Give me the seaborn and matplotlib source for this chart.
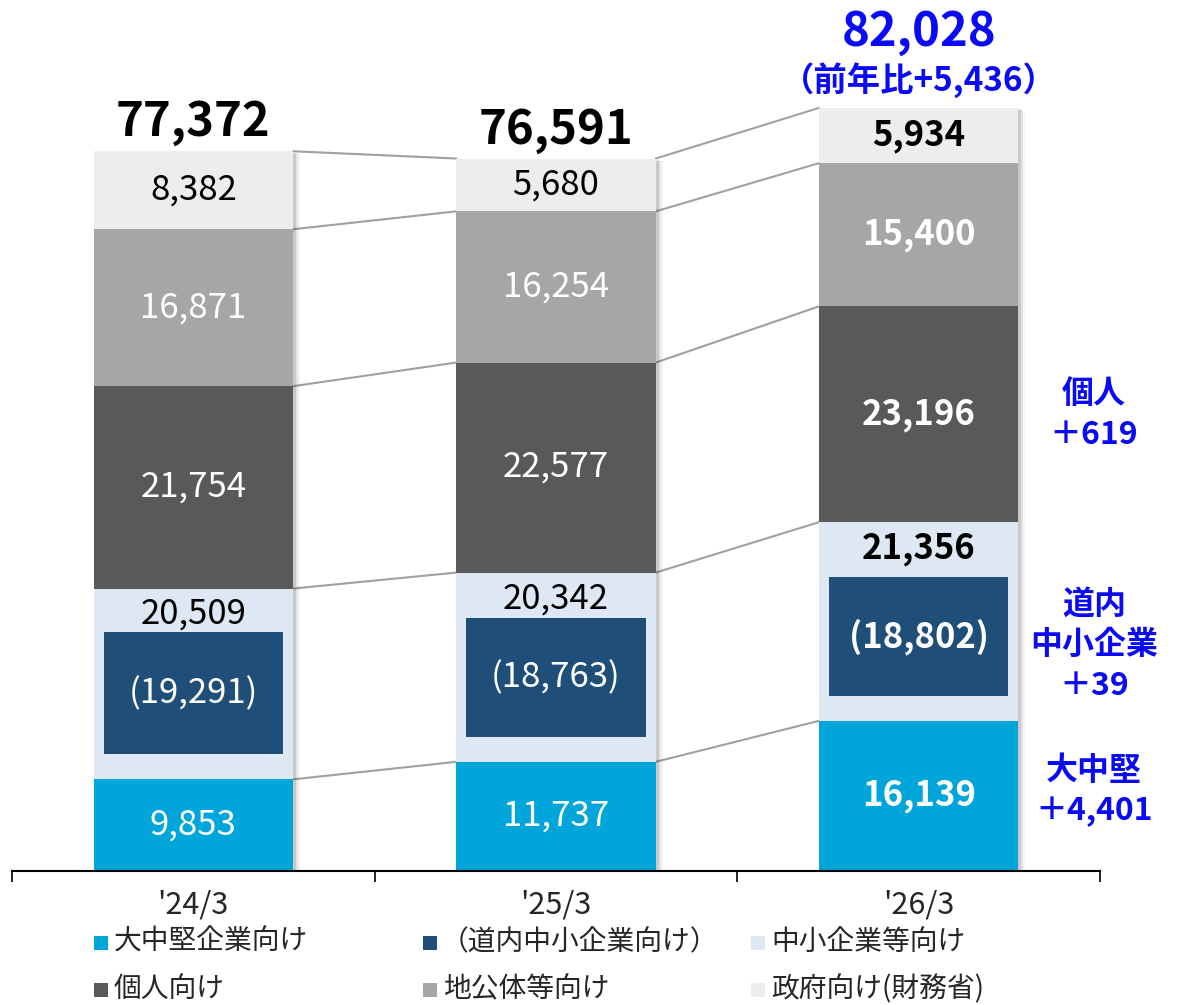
import matplotlib
matplotlib.use('Agg')
import matplotlib.pyplot as plt
import matplotlib.patches as mpatches
import matplotlib.patheffects as pe
import numpy as np
import seaborn as sns

sns.set_style('white')
plt.rcParams['font.family'] = ['Noto Sans CJK JP', 'DejaVu Sans']

# data (単位: 億円)
cats = ["'24/3", "'25/3", "'26/3"]
large = [9853, 11737, 16139]          # 大中堅企業向け
sme = [20509, 20342, 21356]           # 中小企業等向け
local_sme = [19291, 18763, 18802]     # （道内中小企業向け）
indiv = [21754, 22577, 23196]         # 個人向け
local_gov = [16871, 16254, 15400]     # 地公体等向け
govt = [8382, 5680, 5934]             # 政府向け(財務省)
totals = [77372, 76591, 82028]
yoy = '（前年比+5,436）'
diff_labels = ['個人\n＋619', '道内\n中小企業\n＋39', '大中堅\n＋4,401']

c_large = '#00A6D9'
c_sme = '#DEE8F5'
c_local = '#1F4E79'
c_indiv = '#595959'
c_lgov = '#A6A6A6'
c_govt = '#EDEDED'
blue = '#0A0AF5'

W, H = 1183, 1005
fig = plt.figure(figsize=(W / 100, H / 100), dpi=100)
ax = fig.add_axes([12 / W, 134 / H, 1088 / W, 871 / H])
YMAX = 93630
PX = YMAX / 871  # data units per pixel

segs = [large, sme, indiv, local_gov, govt]
cols = [c_large, c_sme, c_indiv, c_lgov, c_govt]
cum = np.cumsum(np.array(segs), axis=0)
bw = 0.55

# stacked bars: draw cumulative heights from the top layer down
for k in range(len(segs) - 1, -1, -1):
    n0 = len(ax.patches)
    sns.barplot(x=cats, y=cum[k], order=cats, color=cols[k], saturation=1,
                width=bw, linewidth=0, ax=ax, zorder=2)
    if k == len(segs) - 1:
        for p in ax.patches[n0:]:
            p.set_path_effects([
                pe.SimplePatchShadow(offset=(5, -2), alpha=0.05),
                pe.SimplePatchShadow(offset=(3.5, -1.5), alpha=0.1),
                pe.SimplePatchShadow(offset=(2, -1), alpha=0.16),
                pe.Normal()])

# inner box for 道内中小企業向け
for i in range(3):
    bottom = large[i] + 25 * PX
    h = local_sme[i] * 0.68
    ax.add_patch(mpatches.Rectangle((i - bw * 0.45, bottom), bw * 0.9, h,
                                    facecolor=c_local, edgecolor='none', zorder=3))
    bold = 'bold' if i == 2 else 'normal'
    ax.text(i, bottom + h / 2, f'({local_sme[i]:,})', ha='center', va='center',
            color='white', fontsize=25, fontweight=bold, zorder=4)

# connector lines
for i in range(2):
    for k in range(len(segs)):
        ax.plot([i + bw / 2, i + 1 - bw / 2], [cum[k][i], cum[k][i + 1]],
                color='#A0A0A0', lw=1.5, zorder=1)

# segment labels
txt_cols = ['white', 'black', 'white', 'white', 'black']
for i in range(3):
    bold = 'bold' if i == 2 else 'normal'
    for k in range(len(segs)):
        lo = cum[k - 1][i] if k > 0 else 0
        hi = cum[k][i]
        y = hi - 26 * PX if k == 1 else (lo + hi) / 2
        ax.text(i, y, f'{segs[k][i]:,}', ha='center', va='center',
                color=txt_cols[k], fontsize=25, fontweight=bold, zorder=4)

# totals
for i in range(2):
    ax.text(i, cum[-1][i] + 29 * PX, f'{totals[i]:,}', ha='center', va='center',
            fontsize=34, fontweight='bold', color='black')
ax.text(2, cum[-1][2] + 76 * PX, f'{totals[2]:,}', ha='center', va='center',
        fontsize=34, fontweight='bold', color=blue)
ax.text(2, cum[-1][2] + 28 * PX, yoy, ha='center', va='center',
        fontsize=24, fontweight='bold', color=blue)

# right-hand change notes
xr = -0.5 + (1095 - 12) / 363
ys = [(cum[1][2] + cum[2][2]) / 2,
      large[2] + 25 * PX + local_sme[2] * 0.34 - 9 * PX,
      large[2] / 2 + 5 * PX]
for lab, y in zip(diff_labels, ys):
    ax.text(xr, y, lab, ha='center', va='center', fontsize=23,
            fontweight='bold', color=blue, linespacing=1.35, clip_on=False)

ax.set_xlim(-0.5, 2.5)
ax.set_ylim(0, YMAX)
ax.set_xticks([-0.5, 0.5, 1.5, 2.5])
ax.set_xticklabels([])
ax.set_xticks([0, 1, 2], minor=True)
ax.set_xticklabels(cats, minor=True, fontsize=22)
ax.tick_params(axis='x', which='major', direction='out', length=8, width=1.2,
               color='black', bottom=True)
ax.tick_params(axis='x', which='minor', length=0, pad=13)
ax.set_yticks([])
ax.set_xlabel('')
ax.set_ylabel('')
for s in ['top', 'right', 'left']:
    ax.spines[s].set_visible(False)
ax.spines['bottom'].set_color('black')
ax.spines['bottom'].set_linewidth(1.5)

# legend
leg_labels = ['大中堅企業向け', '（道内中小企業向け）', '中小企業等向け',
              '個人向け', '地公体等向け', '政府向け(財務省)']
leg_cols = [c_large, c_local, c_sme, c_indiv, c_lgov, c_govt]
col_x = [94, 423, 751]
row_y = [943, 990]
for j, (lab, c) in enumerate(zip(leg_labels, leg_cols)):
    x0 = col_x[j % 3]
    y0 = row_y[j // 3]
    fig.add_artist(mpatches.Rectangle((x0 / W, 1 - (y0 + 7) / H), 14 / W, 14 / H,
                                      transform=fig.transFigure,
                                      facecolor=c, edgecolor='none'))
    tx = x0 + 20 if not lab.startswith('（') else x0 + 18
    fig.text(tx / W, 1 - (y0 - 1) / H, lab, ha='left', va='center', fontsize=20)

fig.savefig('out.png', dpi=100)
